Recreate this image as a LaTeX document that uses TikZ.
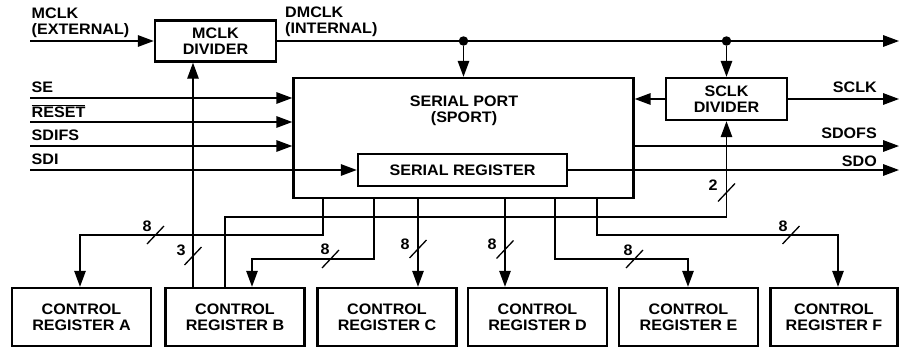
\documentclass[tikz,border=0pt]{standalone}
\usepackage{fontspec}
\setmainfont{Liberation Sans}[FakeStretch=1.06]
\usetikzlibrary{arrows.meta}

\newcommand{\blkfont}{\fontsize{15.2}{15.8}\selectfont\bfseries}

\tikzset{
  blk/.style={draw, line width=2.4pt, inner sep=0pt, align=center, font=\blkfont},
  lbl/.style={inner sep=0pt, align=left, font=\blkfont},
  sig/.style={line width=1.6pt},
  bus/.style={line width=1.3pt},
  arr/.style={-{Triangle[length=16pt,width=11.5pt]}},
  dot/.style={circle, fill, inner sep=0pt, minimum size=9.5pt},
}

\begin{document}
\begin{tikzpicture}[x=1pt, y=-1pt]
  \useasboundingbox (0,0) rectangle (900,348);

  % blocks
  \node[blk, minimum width=121pt, minimum height=41pt] (mdiv) at (215.5,41) {MCLK\\DIVIDER};
  \node[blk, minimum width=340pt, minimum height=120pt] (sport) at (463.5,138) {};
  \node[lbl, anchor=north, align=center] (sportlbl) at (464,96) {SERIAL PORT\\(SPORT)};
  \node[blk, minimum width=209pt, minimum height=32pt] (sreg) at (462.5,170) {SERIAL REGISTER};
  \node[blk, minimum width=121pt, minimum height=42pt] (sdiv) at (726.5,99) {SCLK\\DIVIDER};

  \foreach \n/\x in {A/81.5,B/235,C/387,D/537.5,E/688.5}
    \node[blk, minimum width=139pt, minimum height=58pt] (cr\n) at (\x,317) {CONTROL\\REGISTER \n};
  \node[blk, minimum width=127pt, minimum height=58pt] (crF) at (834,317) {CONTROL\\REGISTER F};

  % pin labels
  \node[lbl, anchor=north west] (lmclk) at (31.5,8) {MCLK\\(EXTERNAL)};
  \node[lbl, anchor=north west] (ldmclk) at (285,7) {DMCLK\\(INTERNAL)};
  \node[lbl, anchor=base west] (lse) at (31.5,92) {SE};
  \node[lbl, anchor=base west] (lrst) at (31.5,117) {$\overline{\hbox{RESET}}$};
  \node[lbl, anchor=base west] (lfs) at (31.5,140) {SDIFS};
  \node[lbl, anchor=base west] (lsdi) at (31.5,164) {SDI};
  \node[lbl, anchor=base east] (lsclk) at (877,92) {SCLK};
  \node[lbl, anchor=base east] (lsdofs) at (877,138) {SDOFS};
  \node[lbl, anchor=base east] (lsdo) at (877,166) {SDO};

  % pin ends
  \coordinate (iMCLK) at (30,41);
  \coordinate (iSE) at (30,98);
  \coordinate (iRST) at (30,122);
  \coordinate (iFS) at (30,146);
  \coordinate (iSDI) at (30,170);
  \coordinate (oMCLK) at (899,41);
  \coordinate (oSCLK) at (899,99);
  \coordinate (oSDOFS) at (899,146);
  \coordinate (oSDO) at (899,170);

  % clocks
  \draw[sig,arr] (iMCLK) -- (mdiv.west);
  \draw[sig,arr] (mdiv.east) -- (oMCLK);
  \node[dot] (d1) at (mdiv.east -| sport.north) {};
  \node[dot] (d2) at (mdiv.east -| sdiv.north) {};
  \draw[sig,arr] (d1) -- (sport.north);
  \draw[sig,arr] (d2) -- (sdiv.north);
  \draw[sig,arr] (sdiv.west) -- (sdiv.west -| sport.east);
  \draw[sig,arr] (sdiv.east) -- (oSCLK);

  % serial inputs and outputs
  \draw[sig,arr] (iSE) -- (iSE -| sport.west);
  \draw[sig,arr] (iRST) -- (iRST -| sport.west);
  \draw[sig,arr] (iFS) -- (iFS -| sport.west);
  \draw[sig,arr] (iSDI) -- (sreg.west);
  \draw[sig,arr] (sport.east |- oSDOFS) -- (oSDOFS);
  \draw[sig,arr] (sreg.east) -- (oSDO);

  % control buses
  \foreach \n/\x in {A/323,B/374,C/418,D/505,E/555,F/597}
    \coordinate (t\n) at (\x,198);
  \coordinate (kA) at (80,235);
  \coordinate (kB) at (252,259);
  \coordinate (kE) at (688,259);
  \coordinate (kF) at (838,235);
  \coordinate (jM) at (193,100);
  \coordinate (jS) at (225,217);

  \draw[bus,arr] (tA) |- (kA) -- (kA |- crA.north);
  \draw[bus,arr] (tB) |- (kB) -- (kB |- crB.north);
  \draw[bus,arr] (tC) -- (tC |- crC.north);
  \draw[bus,arr] (tD) -- (tD |- crD.north);
  \draw[bus,arr] (tE) |- (kE) -- (kE |- crE.north);
  \draw[bus,arr] (tF) |- (kF) -- (kF |- crF.north);
  \draw[bus,arr] (jM |- crB.north) -- (jM |- mdiv.south);
  \draw[bus,arr] (jS |- crB.north) -- (jS) -| (sdiv.south);

  % bus widths
  \foreach \nm/\sx/\sy/\lx/\ly/\t in {wA/155.5/235/147/226/8, wB/330.5/259/325/249/8,
      wC/418/249/405/244/8, wD/505/249.5/492/244/8, wE/634.5/259/628/250/8,
      wF/791/235/783/226/8, wM/193/256/181/250/3, wS/726.5/192.5/713/185/2}{
    \draw[bus] (\sx,\sy) ++(-8.5,9) -- ++(17,-18);
    \node[lbl] (\nm) at (\lx,\ly) {\t};
  }
\end{tikzpicture}
\end{document}
